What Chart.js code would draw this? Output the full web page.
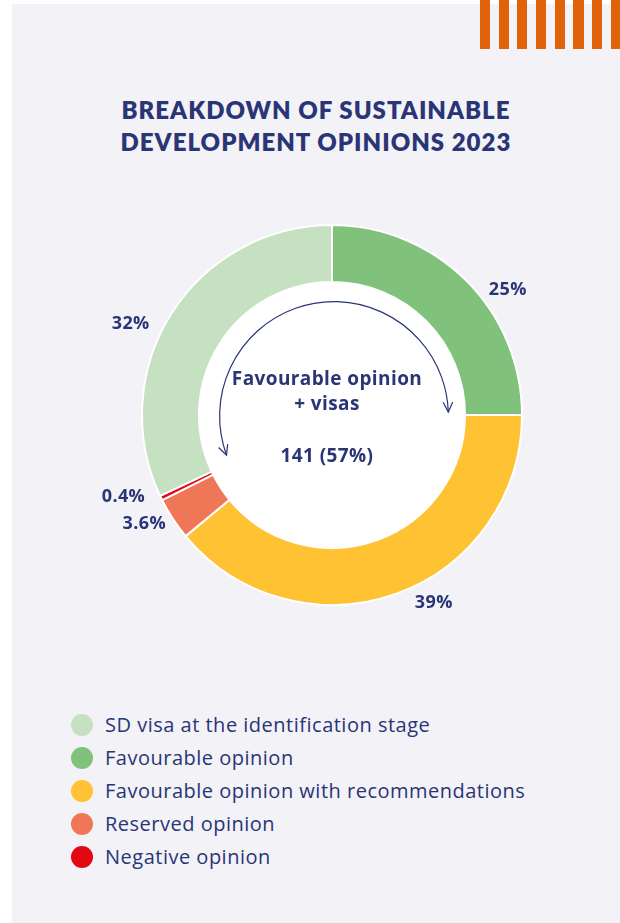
<!DOCTYPE html>
<html>
<head>
<meta charset="utf-8">
<script src="https://cdn.jsdelivr.net/npm/chart.js@4"></script>
<style>
  html, body { margin: 0; padding: 0; background: #ffffff; }
  body { width: 620px; height: 923px; position: relative; overflow: hidden; font-family: "Open Sans", sans-serif; }
  .panel { position: absolute; left: 12px; top: 4px; width: 608px; height: 919px; background: #f2f2f7; }
  .stripes { position: absolute; left: 480px; top: 0; width: 140px; height: 49px;
    background: repeating-linear-gradient(90deg, #e2620a 0 10px, transparent 10px 18.7px); }
  h1 { position: absolute; left: 12px; width: 608px; top: 94px; margin: 0; text-align: center;
    font-family: Lato, sans-serif; color: #2a3576; font-size: 24px; font-weight: 800; line-height: 32px; letter-spacing: 1px; }
  .wrap { position: absolute; left: 72px; top: 155px; width: 520px; height: 520px; }
  #legend { position: absolute; left: 71px; top: 708px; margin: 0; padding: 0; list-style: none; }
  #legend li { height: 33px; display: flex; align-items: center; color: #2a3576; font-size: 20px; letter-spacing: 0.5px; }
  #legend span { width: 22px; height: 22px; border-radius: 50%; margin-right: 12px; display: inline-block; }
</style>
</head>
<body>
<div class="panel"></div>
<div class="stripes"></div>
<h1>BREAKDOWN OF SUSTAINABLE<br>DEVELOPMENT OPINIONS 2023</h1>
<div class="wrap"><canvas id="opinionsChart"></canvas></div>
<ul id="legend"></ul>
<script>
// Répartition des avis 2023 (ordre du donut, sens horaire depuis midi)
const categories = [
  'Favourable opinion',
  'Favourable opinion with recommendations',
  'Reserved opinion',
  'Negative opinion',
  'SD visa at the identification stage'
]
const shares = [25, 39, 3.6, 0.4, 32]
const shareLabels = ['25%', '39%', '3.6%', '0.4%', '32%']
const colors = ['#80c27b', '#fec232', '#ef7757', '#e30613', '#c6e1c1']
const legendOrder = [4, 0, 1, 2, 3]
const centerLines = ['Favourable opinion', '+ visas']
const centerTotal = '141 (57%)'

const navy = '#2a3576'

// petites corrections d'angle pour les étiquettes extérieures
const labelNudge = [9.5, -8.6, 3, 4.5, -8]
const labelDist = [26, 24, 27, 34, 31]

const labelsPlugin = {
  id: 'labelsPlugin',
  afterDraw(chart) {
    const ctx = chart.ctx
    const arcs = chart.getDatasetMeta(0).data
    const cx = arcs[0].x
    const cy = arcs[0].y
    const outer = arcs[0].outerRadius
    const inner = arcs[0].innerRadius

    ctx.save()
    ctx.fillStyle = navy
    ctx.textAlign = 'center'
    ctx.textBaseline = 'middle'
    ctx.letterSpacing = '0.4px'
    ctx.font = 'bold 18px "Open Sans"'
    arcs.forEach((arc, i) => {
      const mid = (arc.startAngle + arc.endAngle) / 2 + labelNudge[i] * Math.PI / 180
      const r = outer + labelDist[i]
      ctx.fillText(shareLabels[i], cx + Math.cos(mid) * r, cy + Math.sin(mid) * r)
    })

    // texte central
    ctx.font = 'bold 19px "Open Sans"'
    ctx.fillText(centerLines[0], cx - 5, cy - 35)
    ctx.fillText(centerLines[1], cx - 5, cy - 10)
    ctx.fillText(centerTotal, cx - 5, cy + 42)
    ctx.letterSpacing = '0px'

    // flèche courbe
    const r = inner * 0.86
    const a0 = 160 * Math.PI / 180
    const a1 = 358 * Math.PI / 180
    ctx.strokeStyle = navy
    ctx.lineWidth = 1.2
    ctx.beginPath()
    ctx.arc(cx + 2, cy + 1, r, a0, a1)
    ctx.stroke()
    const head = (a, dir) => {
      const px = cx + 2 + Math.cos(a) * r
      const py = cy + 1 + Math.sin(a) * r
      // tangente dans le sens du trait
      const tx = -Math.sin(a) * dir
      const ty = Math.cos(a) * dir
      const s = 11
      const w = 0.45
      ctx.beginPath()
      ctx.moveTo(px - s * (tx * Math.cos(w) - ty * Math.sin(w)), py - s * (ty * Math.cos(w) + tx * Math.sin(w)))
      ctx.lineTo(px, py)
      ctx.lineTo(px - s * (tx * Math.cos(-w) - ty * Math.sin(-w)), py - s * (ty * Math.cos(-w) + tx * Math.sin(-w)))
      ctx.stroke()
    }
    head(a0, -1)
    head(a1, 1)
    ctx.restore()
  }
}

const opinionsChart = () => {
  const canvas = document.querySelector('#opinionsChart')

  new Chart(canvas, {
    type: 'doughnut',
    data: {
      labels: categories,
      datasets: [{
        data: shares,
        backgroundColor: colors,
        borderColor: '#ffffff',
        borderWidth: 2,
        hoverOffset: 0
      }]
    },
    options: {
      responsive: true,
      maintainAspectRatio: false,
      animation: false,
      cutout: '70%',
      layout: { padding: 69 },
      plugins: {
        legend: { display: false },
        tooltip: { enabled: false }
      }
    },
    plugins: [labelsPlugin, {
      id: 'whiteHole',
      beforeDatasetsDraw(chart) {
        const arc = chart.getDatasetMeta(0).data[0]
        const ctx = chart.ctx
        ctx.save()
        ctx.fillStyle = '#ffffff'
        ctx.beginPath()
        ctx.arc(arc.x, arc.y, arc.innerRadius, 0, Math.PI * 2)
        ctx.fill()
        ctx.restore()
      }
    }]
  })

  const legend = document.querySelector('#legend')
  for (const i of legendOrder) {
    const li = document.createElement('li')
    li.innerHTML = `<span style="background:${colors[i]}"></span>${categories[i]}`
    legend.appendChild(li)
  }
}

opinionsChart()
</script>
</body>
</html>
